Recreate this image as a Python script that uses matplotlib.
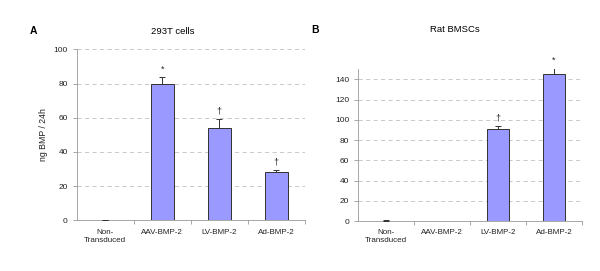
import matplotlib.pyplot as plt

plt.rcParams['font.family'] = ['Liberation Sans', 'DejaVu Sans']

categories = ['Non-\nTransduced', 'AAV-BMP-2', 'LV-BMP-2', 'Ad-BMP-2']

# Panel A: 293T cells
vals_a = [0, 80, 54, 28.5]
err_a = [0.2, 4, 5.3, 0.7]
marks_a = ['', '*', '\u2020', '\u2020']

# Panel B: Rat BMSCs
vals_b = [0.3, 0, 90.5, 145.6]
err_b = [0.2, 0, 3.8, 5.6]
marks_b = ['', '', '\u2020', '*']

bar_color = '#9999ff'
edge_color = '#333333'
grid_color = '#c0c0c0'

fig = plt.figure(figsize=(6, 2.71), dpi=100)


def draw_panel(ax, vals, errs, marks, ymax, yticks, mark_off):
    x = list(range(len(categories)))
    lws = [0.7 if v > 1 else 0 for v in vals]
    ax.bar(x, vals, width=0.4, color=bar_color, edgecolor=edge_color, linewidth=lws, zorder=3)
    for xi, v, e in zip(x, vals, errs):
        if e > 0:
            ax.errorbar(xi, v, yerr=[[0], [e]], fmt='none', ecolor=edge_color,
                        elinewidth=0.7, capsize=2.5, capthick=0.7, zorder=4)
    for xi, v, e, m in zip(x, vals, errs, marks):
        if m:
            ax.text(xi, v + e + mark_off, m, ha='center', va='bottom', fontsize=6.5, color='#222222')
    ax.set_xlim(-0.5, len(categories) - 0.5)
    ax.set_ylim(0, ymax)
    ax.set_yticks(yticks)
    ax.set_xticks(x)
    ax.set_xticklabels(categories, fontsize=5.8, color='#222222')
    ax.set_xticks([0.5, 1.5, 2.5, 3.5], minor=True)
    ax.tick_params(axis='x', which='major', length=0, pad=6)
    ax.tick_params(axis='x', which='minor', length=3, color='#999999', width=0.6)
    ax.tick_params(axis='y', labelsize=6, length=3, color='#999999', width=0.6, labelcolor='#222222')
    ax.yaxis.grid(True, linestyle=(0, (5, 4)), color=grid_color, linewidth=0.6, zorder=0)
    for s in ['top', 'right']:
        ax.spines[s].set_visible(False)
    for s in ['left', 'bottom']:
        ax.spines[s].set_color('#999999')
        ax.spines[s].set_linewidth(0.6)


ax1 = fig.add_axes([0.128, 0.187, 0.38, 0.631])
draw_panel(ax1, vals_a, err_a, marks_a, 100, range(0, 101, 20), 2)
ax1.set_ylabel('ng BMP / 24h', fontsize=6.3, color='#222222', labelpad=4)

ax2 = fig.add_axes([0.597, 0.1845, 0.373, 0.56])
draw_panel(ax2, vals_b, err_b, marks_b, 150, range(0, 141, 20), 3)

fig.text(0.055, 0.885, 'A', fontsize=7.5, fontweight='bold', ha='center', va='center')
fig.text(0.288, 0.885, '293T cells', fontsize=6.8, ha='center', va='center')
fig.text(0.525, 0.89, 'B', fontsize=7.5, fontweight='bold', ha='center', va='center')
fig.text(0.758, 0.89, 'Rat BMSCs', fontsize=6.8, ha='center', va='center')

fig.savefig('out.png', dpi=100)
